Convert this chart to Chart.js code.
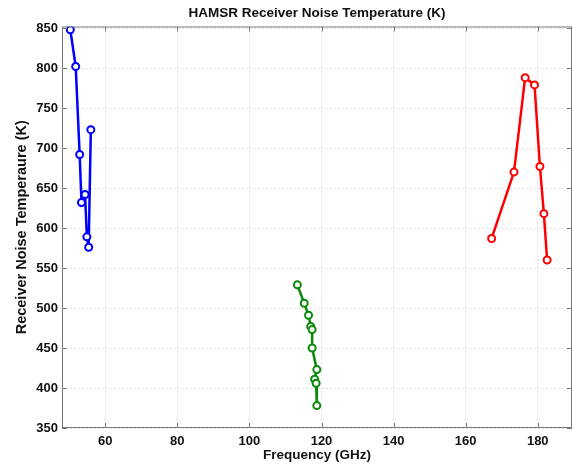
<!DOCTYPE html>
<html>
<head>
<meta charset="utf-8">
<script src="https://cdn.jsdelivr.net/npm/chart.js@4"></script>
<style>
    html, body { margin: 0; padding: 0; background: #fff; }
    #wrap { width: 573px; height: 467px; }
</style>
</head>
<body>
<div id="wrap"><canvas id="noiseChart"></canvas></div>
<script>
// 50-60 GHz band
const blueFreq = [50.3, 51.8, 52.9, 53.4, 54.4, 54.9, 55.4, 56.0];
const blueTemp = [848, 802, 692, 632, 642, 589, 576, 723];

// 118 GHz band
const greenFreq = [113.3, 115.2, 116.4, 117.0, 117.4, 117.4, 118.7, 118.1, 118.5, 118.7];
const greenTemp = [529, 506, 491, 477, 473, 450, 423, 411, 406, 378];

// 183 GHz band
const redFreq = [167.2, 173.4, 176.5, 179.1, 180.6, 181.7, 182.6];
const redTemp = [587, 670, 788, 779, 677, 618, 560];

const xTicks = [60, 80, 100, 120, 140, 160, 180];
const yTicks = [350, 400, 450, 500, 550, 600, 650, 700, 750, 800, 850];

const chartTitle = "HAMSR Receiver Noise Temperature (K)";
const font = "'Liberation Sans', Arial, sans-serif";

function toPoints(xs, ys) {
    return xs.map((x, i) => ({ x: x, y: ys[i] }));
}

function makeSeries(label, xs, ys, color) {
    return {
        label: label,
        data: toPoints(xs, ys),
        borderColor: color,
        backgroundColor: color,
        borderWidth: 2.5,
        pointRadius: 3.5,
        pointBorderWidth: 2,
        pointBackgroundColor: "#ffffff",
        pointBorderColor: color,
        showLine: true,
        tension: 0
    };
}

// Box round the plot with inward tick marks, and the title centred over the plot
const boxPlugin = {
    id: "boxPlugin",
    afterDatasetsDraw(chart) {
        const { ctx, chartArea: a, scales } = chart;
        ctx.save();
        ctx.strokeStyle = "#7a7a7a";
        ctx.lineWidth = 1;
        ctx.strokeRect(a.left + 0.5, a.top + 0.5, a.right - a.left - 1, a.bottom - a.top - 1);
        ctx.beginPath();
        xTicks.forEach((v) => {
            const px = Math.round(scales.x.getPixelForValue(v)) + 0.5;
            ctx.moveTo(px, a.bottom); ctx.lineTo(px, a.bottom - 5);
            ctx.moveTo(px, a.top); ctx.lineTo(px, a.top + 5);
        });
        yTicks.forEach((v) => {
            const py = Math.round(scales.y.getPixelForValue(v)) + 0.5;
            ctx.moveTo(a.left, py); ctx.lineTo(a.left + 5, py);
            ctx.moveTo(a.right, py); ctx.lineTo(a.right - 5, py);
        });
        ctx.stroke();

        ctx.fillStyle = "#111";
        ctx.font = "bold 13.5px " + font;
        ctx.textAlign = "center";
        ctx.textBaseline = "middle";
        ctx.fillText(chartTitle, (a.left + a.right) / 2, 13);
        ctx.restore();
    }
};

const chartConfig = {
    type: "scatter",
    data: {
        datasets: [
            makeSeries("50-60 GHz", blueFreq, blueTemp, "#0000ff"),
            makeSeries("118 GHz", greenFreq, greenTemp, "#0a8a0a"),
            makeSeries("183 GHz", redFreq, redTemp, "#ff0000")
        ]
    },
    options: {
        responsive: true,
        maintainAspectRatio: false,
        animation: false,
        layout: { autoPadding: false, padding: { left: 0, right: 1, top: 26.5, bottom: 0 } },
        plugins: {
            legend: { display: false },
            tooltip: { enabled: false },
            title: { display: false }
        },
        scales: {
            x: {
                type: "linear",
                min: 48,
                max: 189.5,
                afterBuildTicks: (scale) => { scale.ticks = xTicks.map((v) => ({ value: v })); },
                afterFit: (scale) => { scale.height = 39; },
                grid: { color: "#e2e2e2", drawTicks: false },
                border: { display: false, dash: [2, 2] },
                ticks: {
                    color: "#111",
                    padding: 6,
                    font: { family: font, size: 13, weight: "bold" }
                },
                title: {
                    display: true,
                    text: "Frequency (GHz)",
                    color: "#111",
                    font: { family: font, size: 13.5, weight: "bold" },
                    padding: { top: 0, bottom: 4 }
                }
            },
            y: {
                type: "linear",
                min: 350,
                max: 852,
                afterBuildTicks: (scale) => { scale.ticks = yTicks.map((v) => ({ value: v })); },
                afterFit: (scale) => { scale.width = 62; },
                grid: { color: "#e2e2e2", drawTicks: false },
                border: { display: false, dash: [2, 2] },
                ticks: {
                    color: "#111",
                    padding: 4,
                    font: { family: font, size: 13, weight: "bold" }
                },
                title: {
                    display: true,
                    text: "Receiver Noise Temperaure (K)",
                    color: "#111",
                    font: { family: font, size: 14.5, weight: "bold" },
                    padding: { top: 13, bottom: 0 }
                }
            }
        }
    },
    plugins: [boxPlugin]
};

new Chart(document.getElementById("noiseChart"), chartConfig);
</script>
</body>
</html>
